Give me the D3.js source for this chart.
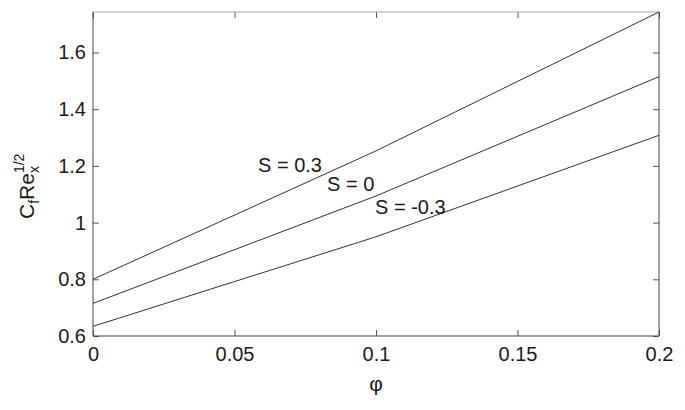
<!DOCTYPE html>
<html>
<head>
<meta charset="utf-8">
<script src="https://cdn.jsdelivr.net/npm/d3@7"></script>
<style>
  body { margin: 0; background: #fff; }
  svg text { font-family: "Liberation Sans", Arial, sans-serif; fill: #1a1a1a; }
</style>
</head>
<body>
<svg id="chart" width="685" height="410"></svg>
<script>
// data
const phi = [0, 0.1, 0.2]
const cf_s_pos = [0.800, 1.253, 1.743]   // S = 0.3
const cf_s_zero = [0.715, 1.094, 1.515]  // S = 0
const cf_s_neg = [0.634, 0.950, 1.308]   // S = -0.3
const series_names = ["S = 0.3", "S = 0", "S = -0.3"]
const x_ticks = [0, 0.05, 0.1, 0.15, 0.2]
const y_ticks = [0.6, 0.8, 1, 1.2, 1.4, 1.6]
const y_tick_labels = ["0.6", "0.8", "1", "1.2", "1.4", "1.6"]

const svg = d3.select("#chart")
const plot_left = 93, plot_right = 659, plot_top = 12, plot_bottom = 336

const x = d3.scaleLinear().domain([0, 0.2]).range([plot_left, plot_right])
const y = d3.scaleLinear().domain([0.6, 1.743]).range([plot_bottom, plot_top])

// ticks, pointing inward on all four sides
function styleAxis(g) {
    g.select(".domain").remove()
    g.selectAll(".tick line").attr("stroke", "#555")
    g.selectAll(".tick text").attr("font-size", 20).attr("fill", "#1a1a1a")
}

svg.append("g")
    .attr("transform", "translate(0," + plot_bottom + ")")
    .call(d3.axisBottom(x).tickValues(x_ticks).tickSizeInner(-6).tickSizeOuter(0)
        .tickPadding(11).tickFormat(d3.format("~g")))
    .call(styleAxis)

svg.append("g")
    .attr("transform", "translate(0," + plot_top + ")")
    .call(d3.axisTop(x).tickValues(x_ticks).tickSizeInner(-6).tickSizeOuter(0).tickFormat(""))
    .call(styleAxis)

svg.append("g")
    .attr("transform", "translate(" + plot_left + ",0)")
    .call(d3.axisLeft(y).tickValues(y_ticks).tickSizeInner(-6).tickSizeOuter(0)
        .tickPadding(7).tickFormat((d, i) => y_tick_labels[i]))
    .call(styleAxis)

svg.append("g")
    .attr("transform", "translate(" + plot_right + ",0)")
    .call(d3.axisRight(y).tickValues(y_ticks).tickSizeInner(-6).tickSizeOuter(0).tickFormat(""))
    .call(styleAxis)

// axes box
svg.append("path")
    .attr("d", `M${plot_left},${plot_top}V${plot_bottom}H${plot_right}V${plot_top}`)
    .attr("fill", "none")
    .attr("stroke", "#444")
    .attr("stroke-width", 1)
svg.append("line")
    .attr("x1", plot_left).attr("x2", plot_right)
    .attr("y1", plot_top).attr("y2", plot_top)
    .attr("stroke", "#aaa")

// curves
const line = d3.line()
    .x((d, i) => x(phi[i]))
    .y(d => y(d))

svg.append("g")
    .selectAll("path")
    .data([cf_s_pos, cf_s_zero, cf_s_neg])
    .enter().append("path")
    .attr("d", line)
    .attr("fill", "none")
    .attr("stroke", "#333")
    .attr("stroke-width", 1)

// curve labels
const label_pos = [[258, 172], [327, 191], [375, 214]]
svg.selectAll(".curveLabel")
    .data(series_names)
    .enter().append("text")
    .attr("class", "curveLabel")
    .attr("x", (d, i) => label_pos[i][0])
    .attr("y", (d, i) => label_pos[i][1])
    .attr("font-size", 20)
    .text(d => d)

// x label
svg.append("text")
    .attr("x", x(0.1))
    .attr("y", 391)
    .attr("text-anchor", "middle")
    .attr("font-size", 21)
    .text("φ")

// y label: C_f Re_x^{1/2}
const ylab = svg.append("text")
    .attr("transform", "translate(34,219) rotate(-90)")
    .attr("font-size", 21)
ylab.append("tspan").text("C")
ylab.append("tspan").attr("font-size", 14).attr("dy", 5).text("f")
ylab.append("tspan").attr("dy", -5).text("Re")
ylab.append("tspan").attr("font-size", 14).attr("dy", 5).text("x")
ylab.append("tspan").attr("font-size", 14).attr("dx", -7).attr("dy", -15).text("1/2")
</script>
</body>
</html>
